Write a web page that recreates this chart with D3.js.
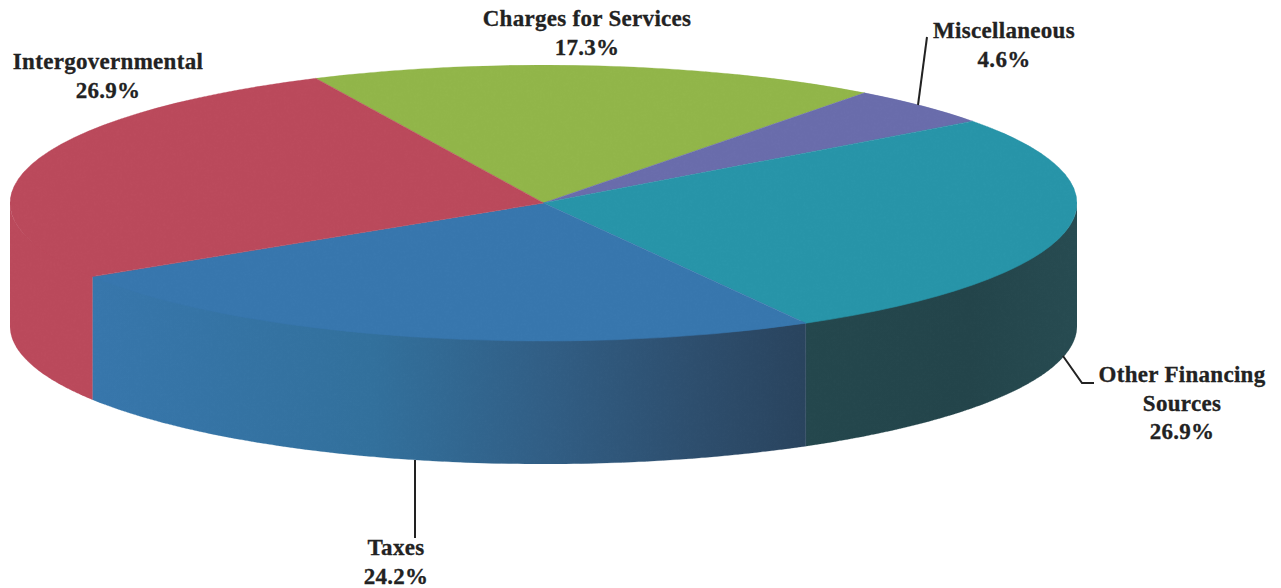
<!DOCTYPE html>
<html>
<head>
<meta charset="utf-8">
<script src="https://cdn.jsdelivr.net/npm/d3@7"></script>
<style>
html, body { margin: 0; padding: 0; background: #fff; overflow: hidden; }
svg { display: block; }
text { font-family: "Liberation Serif", serif; font-weight: bold; font-size: 23px; fill: #222; stroke: #222; stroke-width: 0.3px; text-anchor: middle; letter-spacing: 0.3px; }
</style>
</head>
<body>
<div id="chart"></div>
<script>
// clockwise from the top left edge of the green slice
const categories = ['Charges for Services', 'Miscellaneous', 'Other Financing Sources', 'Taxes', 'Intergovernmental'];
const shares = [17.3, 4.6, 26.9, 24.2, 26.9];
const topColors = ['#94b84c', '#6c6fae', '#2a97ab', '#3a79b0', '#bd4c5e'];

const width = 1281;
const height = 588;
const cx = 543.5;
const cy = 203;
const rx = 533.5;
const ry = 138;
const depth = 123;
const firstAngle = -25.3 * Math.PI / 180;

const svg = d3.select('#chart')
  .append('svg')
  .attr('width', width)
  .attr('height', height)
  .attr('viewBox', [0, 0, width, height]);

const slices = d3.pie().sort(null).value(d => d)
  .startAngle(firstAngle).endAngle(firstAngle + 2 * Math.PI)(shares);

// side wall shading runs left to right across the whole pie
const x = d3.scaleLinear().domain([0, 1]).range([cx - rx, cx + rx]);
const defs = svg.append('defs');

function sideGradient(id, stops) {
  const g = defs.append('linearGradient')
    .attr('id', id)
    .attr('gradientUnits', 'userSpaceOnUse')
    .attr('x1', x(0)).attr('x2', x(1))
    .attr('y1', 0).attr('y2', 0);
  stops.forEach(s => g.append('stop').attr('offset', s[0]).attr('stop-color', s[1]));
}
sideGradient('side2', [[0.74, '#274a50'], [0.9, '#26474d'], [1, '#2a4e54']]);
sideGradient('side3', [[0.08, '#3a79ae'], [0.34, '#35739f'], [0.5, '#346188'], [0.65, '#30506f'], [0.75, '#2c4660']]);
sideGradient('side4', [[0, '#bd4c5e'], [1, '#bd4c5e']]);

// soft grain, the source is a scanned page
const grain = defs.append('filter').attr('id', 'grain')
  .attr('x', 0).attr('y', 0).attr('width', 1).attr('height', 1)
  .attr('color-interpolation-filters', 'sRGB');
grain.append('feTurbulence').attr('type', 'fractalNoise')
  .attr('baseFrequency', 0.3).attr('numOctaves', 2).attr('seed', 4).attr('result', 'noise');
grain.append('feColorMatrix').attr('in', 'noise').attr('type', 'matrix')
  .attr('values', '0 0 0 0 0.5  0 0 0 0 0.5  0 0 0 0 0.5  1 0 0 0 0').attr('result', 'speck');
grain.append('feComposite').attr('in', 'SourceGraphic').attr('in2', 'speck')
  .attr('operator', 'arithmetic').attr('k1', 0).attr('k2', 1).attr('k3', 0.05).attr('k4', -0.025).attr('result', 'mix');
grain.append('feComposite').attr('in', 'mix').attr('in2', 'SourceAlpha')
  .attr('operator', 'in').attr('result', 'clipped');
grain.append('feGaussianBlur').attr('in', 'clipped').attr('stdDeviation', 0.5);

const pieGroup = svg.append('g').attr('filter', 'url(#grain)');

const px = a => cx + rx * Math.sin(a);
const py = a => cy - ry * Math.cos(a);

function sidePath(s) {
  // only the front half of the rim is visible
  const a0 = Math.max(s.startAngle, Math.PI / 2);
  const a1 = Math.min(s.endAngle, 3 * Math.PI / 2);
  if (a1 <= a0) return null;
  const angles = d3.range(0, 101).map(i => a0 + (a1 - a0) * i / 100);
  // wall starts a little under the top so no white shows along the join
  return d3.area()
    .x(a => px(a))
    .y0(a => cy - (ry - 3) * Math.cos(a))
    .y1(a => py(a) + depth)(angles);
}

pieGroup.append('g')
  .selectAll('path')
  .data(slices.map((s, i) => ({ s, i })).filter(d => sidePath(d.s)))
  .join('path')
  .attr('d', d => sidePath(d.s))
  .attr('fill', d => `url(#side${d.i})`)
  .attr('stroke', d => `url(#side${d.i})`)
  .attr('stroke-width', 0.6);

const arc = d3.arc().innerRadius(0).outerRadius(rx);

pieGroup.append('g')
  .attr('transform', `translate(${cx},${cy}) scale(1,${ry / rx})`)
  .selectAll('path')
  .data(slices)
  .join('path')
  .attr('d', arc)
  .attr('fill', (d, i) => topColors[i])
  .attr('stroke', (d, i) => topColors[i])
  .attr('stroke-width', 0.6)
  .attr('vector-effect', 'non-scaling-stroke');

const leaders = [
  [[927, 37], [918, 105]],
  [[1063, 356], [1082, 383], [1094, 383]],
  [[415, 460], [415, 538]]
];
svg.append('g')
  .selectAll('path')
  .data(leaders)
  .join('path')
  .attr('d', d3.line())
  .attr('fill', 'none')
  .attr('stroke', '#222')
  .attr('stroke-width', 2);

const fmt = v => v.toFixed(1) + '%';
const labels = [
  { x: 587, y: 26, lines: [categories[0], fmt(shares[0])] },
  { x: 1004, y: 38, lines: [categories[1], fmt(shares[1])] },
  { x: 1182, y: 382, lines: ['Other Financing', 'Sources', fmt(shares[2])] },
  { x: 396, y: 555, lines: [categories[3], fmt(shares[3])] },
  { x: 108, y: 69, lines: [categories[4], fmt(shares[4])] }
];
svg.append('g')
  .selectAll('text')
  .data(labels)
  .join('text')
  .attr('transform', d => `translate(${d.x},${d.y})`)
  .selectAll('tspan')
  .data(d => d.lines)
  .join('tspan')
  .attr('x', 0)
  .attr('y', (d, i) => i * 28.5)
  .text(d => d);
</script>
</body>
</html>
